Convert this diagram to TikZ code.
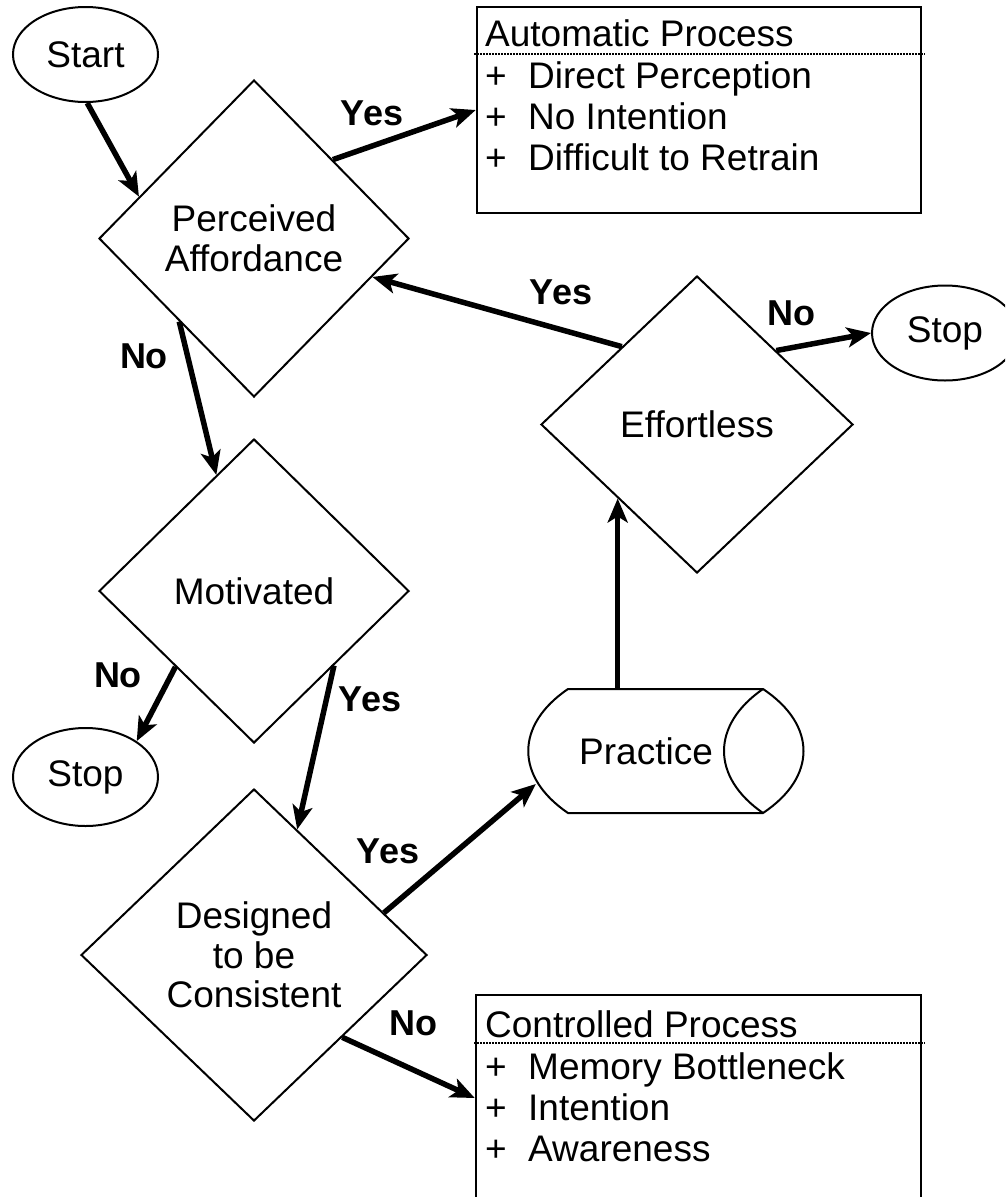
\documentclass[tikz,border=0pt]{standalone}
\usepackage{fontspec}
\setmainfont{Liberation Sans}
\usetikzlibrary{shapes.geometric,arrows.meta,calc}
\tikzset{
  shp/.style={draw, line width=2pt, inner sep=0pt, font=\fontsize{37}{39.5}\selectfont, align=center},
  dec/.style={shp, diamond},
  term/.style={shp, ellipse},
  arr/.style={line width=5.5pt, -{Stealth[length=24pt,width=20pt,inset=6pt]}},
  lbl/.style={font=\fontsize{36}{40}\selectfont\bfseries, inner sep=0pt},
  boxtxt/.style={font=\fontsize{37}{40}\selectfont, inner sep=0pt, anchor=base west},
  procbox/.style={draw, line width=2.5pt, inner sep=0pt},
  sepline/.style={line width=1.5pt, dash pattern=on 1.5pt off 1.5pt},
}
\begin{document}
\begin{tikzpicture}[x=1pt,y=-1pt]
\path[use as bounding box] (0,0) rectangle (1005,1197);
\clip (0,0) rectangle (1005,1197);
\fill[white] (0,0) rectangle (1005,1197);

% nodes
\node[term, minimum width=145pt, minimum height=95pt] (start) at (85.5,54.5) {Start};
\node[dec, minimum width=310pt, minimum height=317pt] (pa) at (254,238.5) {Perceived\\Affordance};
\node[dec, minimum width=310pt, minimum height=304pt] (mot) at (254,591) {Motivated};
\node[term, minimum width=145pt, minimum height=98pt] (stopL) at (85.5,777) {Stop};
\node[dec, minimum width=346pt, minimum height=332pt] (des) at (254,955) {Designed\\to be\\Consistent};
\node[dec, minimum width=312pt, minimum height=297pt] (eff) at (697,424.5) {Effortless};
\node[term, minimum width=146pt, minimum height=95pt] (stopR) at (945,333) {Stop};
\node[procbox, minimum width=444pt, minimum height=206pt] (auto) at (699,110) {};
\node[procbox, minimum width=445pt, minimum height=206pt] (ctrl) at (698.5,1098) {};

% practice (storage shape)
\node[inner sep=0pt, minimum width=276pt, minimum height=124pt] (practice) at (666,751) {};
\draw[line width=2pt] (568,689) -- (763,689) .. controls (817,725) and (817,777) .. (763,813) -- (568,813) .. controls (515,777) and (515,725) .. (568,689) -- cycle;
\draw[line width=2pt] (763,689) .. controls (711,725) and (711,777) .. (763,813);
\node[font=\fontsize{37}{40}\selectfont, inner sep=0pt] (practiceText) at ([xshift=-20pt]practice.center) {Practice};

% box texts
\node[boxtxt] (aHead) at (485,46) {Automatic Process};
\draw[sepline] (474,54) -- (925,54);
\node[boxtxt] (a1p) at (485,88) {+};
\node[boxtxt] (a1) at (528,88) {Direct Perception};
\node[boxtxt] (a2p) at (485,129) {+};
\node[boxtxt] (a2) at (528,129) {No Intention};
\node[boxtxt] (a3p) at (485,170) {+};
\node[boxtxt] (a3) at (528,170) {Difficult to Retrain};

\node[boxtxt] (cHead) at (485,1037) {Controlled Process};
\draw[sepline] (474,1043) -- (925,1043);
\node[boxtxt] (c1p) at (485,1079) {+};
\node[boxtxt] (c1) at (528,1079) {Memory Bottleneck};
\node[boxtxt] (c2p) at (485,1120) {+};
\node[boxtxt] (c2) at (528,1120) {Intention};
\node[boxtxt] (c3p) at (485,1161) {+};
\node[boxtxt] (c3) at (528,1161) {Awareness};

% connectors
\draw[arr] (start.-88) -- (pa.160.5);
\draw[arr] (pa.45) -- (auto.west);
\draw[arr] (pa.228) -- (mot.108.4);
\draw[arr] (mot.224.3) -- (stopL.35);
\draw[arr] (mot.-43.9) -- (des.71.3);
\draw[arr] (des.18.2) -- ([xshift=8pt,yshift=-33pt]practice.west);
\draw[arr] (eff.223.7 |- practice.north) -- (eff.223.7);
\draw[arr] (eff.134) -- (pa.-18.5);
\draw[arr] (eff.43) -- (stopR.west);
\draw[arr] (des.-43.3) -- (ctrl.west);

% labels
\node[lbl] (yPA) at (372,113) {Yes};
\node[lbl] (nPA) at (144,356) {No};
\node[lbl] (nMot) at (118,675) {No};
\node[lbl] (yMot) at (370,699) {Yes};
\node[lbl] (yDes) at (388,851) {Yes};
\node[lbl] (nDes) at (413,1023) {No};
\node[lbl] (yEff) at (561,292) {Yes};
\node[lbl] (nEff) at (791,313) {No};
\end{tikzpicture}
\end{document}
